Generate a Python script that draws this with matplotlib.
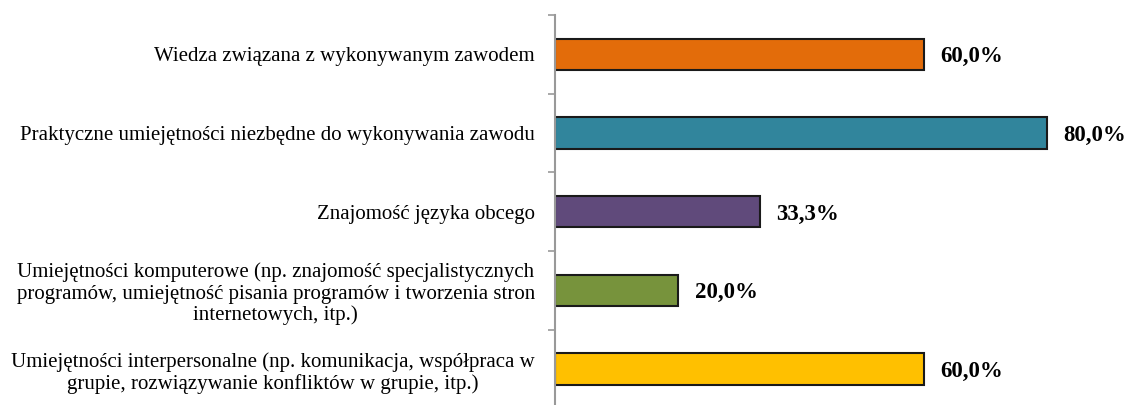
import matplotlib.pyplot as plt

categories = [
    "Wiedza związana z wykonywanym zawodem",
    "Praktyczne umiejętności niezbędne do wykonywania zawodu",
    "Znajomość języka obcego",
    "Umiejętności komputerowe (np. znajomość specjalistycznych\nprogramów, umiejętność pisania programów i tworzenia stron\ninternetowych, itp.)",
    "Umiejętności interpersonalne (np. komunikacja, współpraca w\ngrupie, rozwiązywanie konfliktów w grupie, itp.)",
]
values = [60.0, 80.0, 33.3, 20.0, 60.0]
colors = ["#E36C0A", "#31859C", "#604A7B", "#77933C", "#FFC000"]

plt.rcParams['font.family'] = ['Liberation Serif', 'DejaVu Serif']

fig = plt.figure(figsize=(11.29, 4.05), dpi=100)
ax = fig.add_axes([555 / 1129, -3.5 / 405, (1108.5 - 555) / 1129, 393.5 / 405])

pos = list(range(len(categories)))
ax.barh(pos, values, height=0.4, color=colors, edgecolor="#1a1a1a", linewidth=1.5)
ax.set_ylim(len(categories) - 0.5, -0.5)
ax.set_xlim(0, 90)

for y, v in zip(pos, values):
    ax.text(v + 2.7, y, f"{v:.1f}%".replace(".", ","), va="center_baseline", ha="left",
            fontsize=16.5, fontweight="bold")

# boundary ticks on the axis, category names as minor labels in between
ax.set_yticks([p - 0.5 for p in pos] + [len(categories) - 0.5])
ax.set_yticklabels([])
ax.set_yticks(pos, minor=True)
ax.set_yticklabels(categories, minor=True, fontsize=15, ha="right",
                   multialignment="center", linespacing=1.15)
ax.tick_params(axis="y", which="minor", length=0, pad=14.5)
ax.tick_params(axis="y", which="major", length=5, color="#999999", width=1.2)
ax.set_xticks([])

for s in ["top", "right", "bottom"]:
    ax.spines[s].set_visible(False)
ax.spines["left"].set_color("#999999")
ax.spines["left"].set_linewidth(1.5)

fig.savefig("out.png", dpi=100)
